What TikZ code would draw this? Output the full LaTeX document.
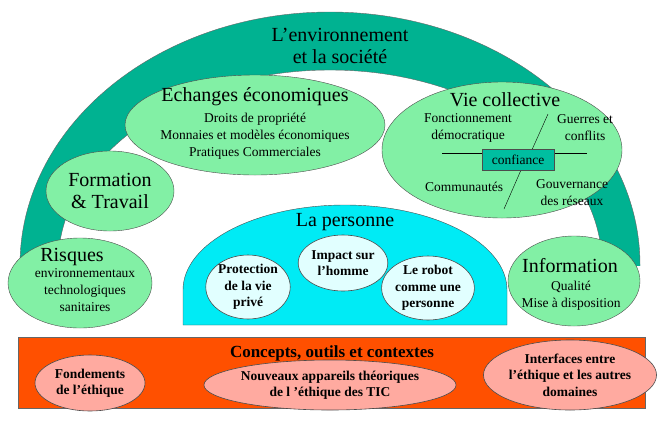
\documentclass[tikz,border=0pt]{standalone}
\usepackage{fontspec}
\setmainfont{Liberation Serif}
\usetikzlibrary{shapes.geometric}
\definecolor{teal1}{RGB}{0,178,145}
\definecolor{lgreen}{RGB}{130,240,165}
\definecolor{cyanp}{RGB}{0,235,245}
\definecolor{lcyan}{RGB}{225,255,255}
\definecolor{orng}{RGB}{255,80,0}
\definecolor{pinkp}{RGB}{255,170,160}
\definecolor{boxt}{RGB}{0,190,160}
\tikzset{
 ell/.style={ellipse,draw=black!70,line width=0.6pt,inner sep=0pt},
 big/.style={font=\fontsize{20}{22}\selectfont,align=center},
 med/.style={font=\fontsize{13.5}{17}\selectfont,align=center},
 bmed/.style={font=\fontsize{13.5}{16.5}\selectfont\bfseries,align=center},
}
\begin{document}
\begin{tikzpicture}[x=1pt,y=-1pt]
\useasboundingbox (0,0) rectangle (661,421);
% arch
\begin{scope}
\clip (0,0) rectangle (661,265);
\fill[teal1,even odd rule,draw=black!60] (330,265) ellipse [x radius=310,y radius=253] (330,265) ellipse [x radius=272,y radius=195];
\end{scope}
\node[big] (env) at (340,46) {L’environnement\\et la société};
% ellipses
\path[fill=lgreen,draw=black!70] (255,125) ellipse [x radius=130,y radius=50];
\node[big] (ech) at (255,97) {Echanges économiques};
\node[med] (echt) at (255,136) {Droits de propriété\\Monnaies et modèles économiques\\Pratiques Commerciales};
\path[fill=lgreen,draw=black!70] (502,150) ellipse [x radius=120,y radius=68];
\node[big] (vie) at (505,100) {Vie collective};
\draw (442,153) -- (587,153);
\draw (548,114) -- (531,152);
\draw (521,170) -- (504,209);
\node[med,draw=black!70,fill=boxt,minimum width=72pt,minimum height=21pt,inner sep=1pt] (conf) at (518,160) {confiance};
\node[med] (fonc) at (468,128) {Fonctionnement\\démocratique};
\node[med] (guer) at (585,128) {Guerres et\\conflits};
\node[med] (comm) at (464,187) {Communautés};
\node[med] (gouv) at (572,193) {Gouvernance\\des réseaux};
\path[fill=lgreen,draw=black!70] (110,191) ellipse [x radius=64,y radius=40];
\node[big] (form) at (110,191) {Formation\\\& Travail};
\path[fill=lgreen,draw=black!70] (80,283) ellipse [x radius=72,y radius=45];
\node[big] (ris) at (72,257) {Risques};
\node[med] (rist) at (85,290) {environnementaux\\technologiques\\sanitaires};
\path[fill=lgreen,draw=black!70] (574,281) ellipse [x radius=66,y radius=45];
\node[big] (info) at (570,266) {Information};
\node[med] (infot) at (571,296) {Qualité\\Mise à disposition};
% personne
\path[fill=cyanp,draw=black!70] (183,325) -- (183,290) arc[start angle=180,end angle=0,x radius=162,y radius=-85] -- (507,325) -- cycle;
\node[big] (pers) at (345,222) {La personne};
\node[ell,fill=lcyan,minimum width=84pt,minimum height=60pt,bmed] (prot) at (248,287) {Protection\\de la vie\\privé};
\node[ell,fill=lcyan,minimum width=76pt,minimum height=56pt,bmed] (imp) at (343,263) {Impact sur\\l’homme};
\node[ell,fill=lcyan,minimum width=84pt,minimum height=62pt,bmed] (rob) at (428,288) {Le robot\\comme une\\personne};
% bottom
\path[fill=orng,draw=black!60] (18,337) rectangle (645,408);
\node[font=\fontsize{17}{19}\selectfont\bfseries] (conc) at (332,353) {Concepts, outils et contextes};
\node[ell,fill=pinkp,minimum width=110pt,minimum height=56pt,bmed] (fond) at (90,383) {Fondements\\de l’éthique};
\node[ell,fill=pinkp,minimum width=244pt,minimum height=50pt,bmed] (nouv) at (330,385) {Nouveaux appareils théoriques\\de l ’éthique des TIC};
\node[ell,fill=pinkp,minimum width=154pt,minimum height=70pt,bmed] (intf) at (570,375) {Interfaces entre\\l’éthique et les autres\\domaines};
\end{tikzpicture}
\end{document}
